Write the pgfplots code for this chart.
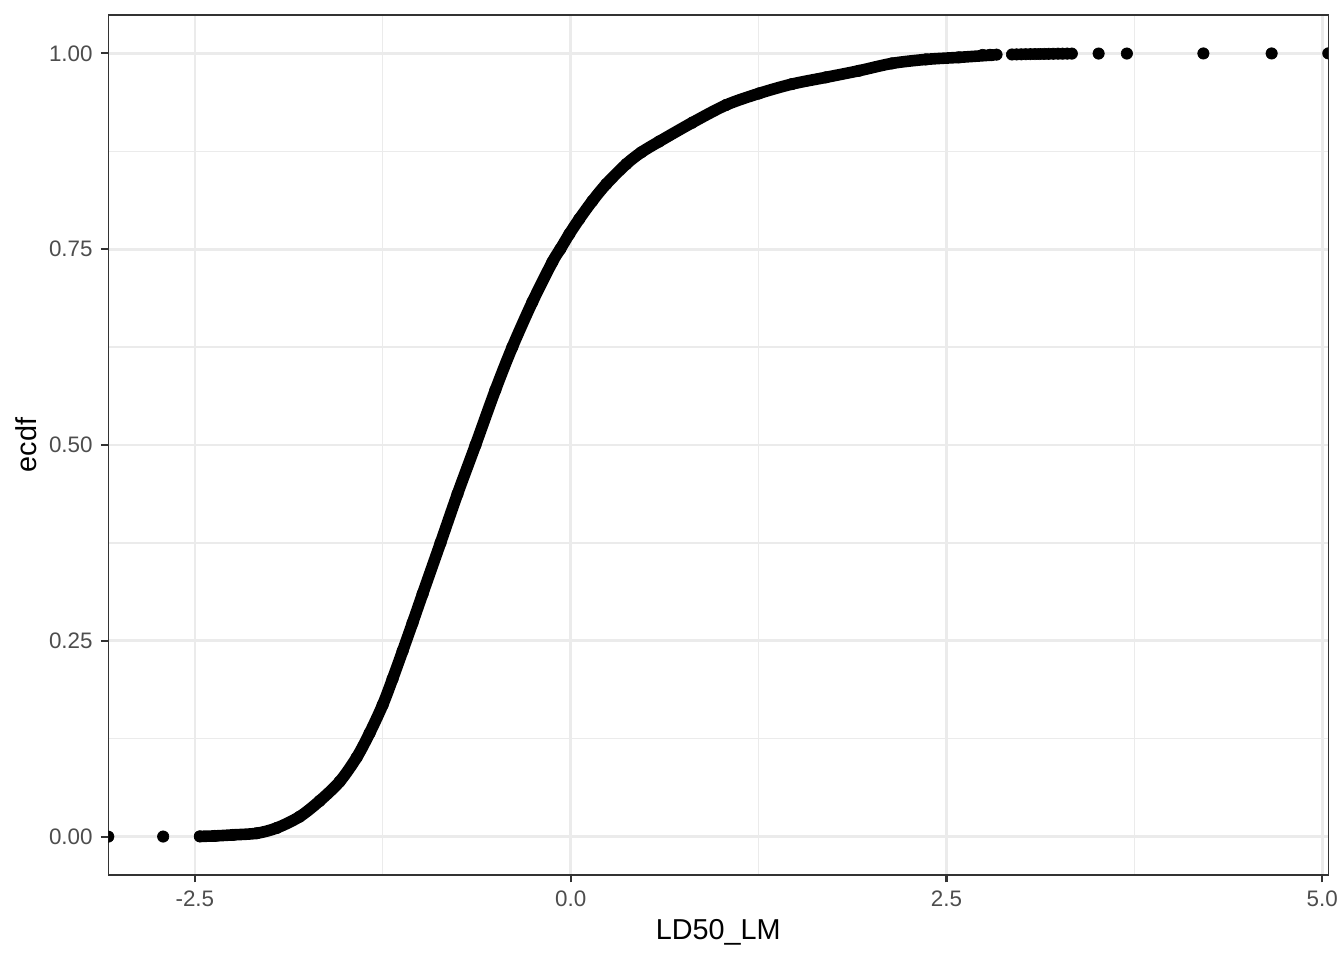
\documentclass[border=0pt]{standalone}
\usepackage{fontspec}
\setmainfont{Liberation Sans}
\usepackage{pgfplots}
\pgfplotsset{compat=1.18}
\definecolor{grid92}{HTML}{EBEBEB}
\definecolor{grey20}{HTML}{333333}
\definecolor{grey30}{HTML}{4D4D4D}
\begin{document}
\begin{tikzpicture}
\path[use as bounding box] (0,0) rectangle (672pt,480pt);
\begin{axis}[
  at={(54.15pt,42.5pt)}, anchor=south west,
  width=610pt, height=430pt, scale only axis,
  xmin=-3.076, xmax=5.040, ymin=-0.049, ymax=1.049,
  xtick={-2.5,0,2.5,5}, xticklabels={-2.5,0.0,2.5,5.0},
  ytick={0,0.25,0.5,0.75,1}, yticklabels={0.00,0.25,0.50,0.75,1.00},
  minor xtick={-1.25,1.25,3.75}, minor ytick={0.125,0.375,0.625,0.875},
  grid=both,
  major grid style={draw=grid92, line width=1.35pt},
  minor grid style={draw=grid92, line width=0.7pt},
  tick align=outside, tick pos=left,
  major tick length=3.67pt, minor tick length=0pt,
  major tick style={draw=grey20, line width=1.1pt},
  axis line style={draw=grey20, line width=0.67pt},
  ticklabel style={font=\fontsize{11.2}{13}\selectfont, text=grey30, inner sep=0pt},
  xticklabel style={anchor=north, yshift=-3.83pt},
  yticklabel style={anchor=east, xshift=-3.98pt},
  xlabel={LD50\_LM},
  xlabel style={at={([yshift=-22pt]axis description cs:0.5,0)}, anchor=north, inner sep=0pt, font=\fontsize{14.4}{17}\selectfont},
  ylabel={ecdf},
  ylabel style={at={([xshift=-35.65pt]axis description cs:0,0.5)}, anchor=south, inner sep=0pt, font=\fontsize{14.4}{17}\selectfont},
  clip marker paths=true,
]
% dense body of the ECDF (points overlap into a band)
\addplot[black, line width=5.8pt, smooth, tension=0.5, line cap=round, line join=round, mark=*, mark size=2.85pt, mark options={line width=0.3pt}] table {
x y
-2.467 0.0003
-2.367 0.0009
-2.248 0.0022
-2.088 0.0043
-1.955 0.0111
-1.803 0.0255
-1.670 0.0456
-1.537 0.0702
-1.424 0.1010
-1.338 0.1320
-1.251 0.1680
-1.185 0.2013
-1.118 0.2370
-1.052 0.2728
-0.985 0.3099
-0.866 0.3750
-0.753 0.4375
-0.633 0.5000
-0.501 0.5702
-0.388 0.6251
-0.255 0.6825
-0.122 0.7336
-0.069 0.7502
-0.009 0.7694
0.057 0.7885
0.144 0.8115
0.237 0.8332
0.370 0.8587
0.469 0.8736
0.589 0.8875
0.808 0.9115
1.034 0.9341
1.253 0.9489
1.472 0.9608
1.698 0.9694
1.917 0.9778
2.137 0.9872
2.363 0.9923
2.582 0.9949
2.801 0.9978
};
% isolated points in the tails
\addplot[only marks, black, mark=*, mark size=2.85pt, mark options={line width=0.3pt}] table {
x y
-3.076 0.0000
-2.711 0.0001
2.740 0.9980
2.790 0.9982
2.833 0.9984
2.936 0.9986
2.966 0.9987
2.997 0.9988
3.027 0.9989
3.058 0.9990
3.089 0.9991
3.119 0.9992
3.150 0.9993
3.180 0.9994
3.211 0.9995
3.242 0.9996
3.272 0.9996
3.303 0.9997
3.334 0.9997
3.512 0.9998
3.700 0.9998
4.209 0.9999
4.663 0.9999
5.040 1.0000
};
\end{axis}
\end{tikzpicture}
\end{document}
